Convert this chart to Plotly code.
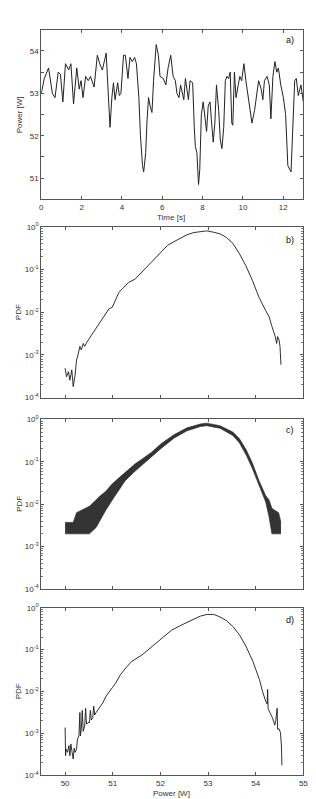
import numpy as np
import plotly.graph_objects as go

# ---------------- data ----------------
# a) power time series
time_s = [0.00, 0.15, 0.36, 0.55, 0.68, 0.84, 0.95, 1.07, 1.20, 1.36, 1.47, 1.60, 1.76, 1.88,
          1.97, 2.07, 2.20, 2.33, 2.44, 2.62, 2.78, 2.90, 3.03, 3.22, 3.30, 3.41, 3.50, 3.58,
          3.66, 3.79, 3.87, 3.95, 4.08, 4.17, 4.30, 4.40, 4.51, 4.63, 4.72, 4.84, 4.92, 5.02,
          5.08, 5.18, 5.24, 5.32, 5.40, 5.49, 5.57, 5.63, 5.70, 5.81, 5.89, 6.05, 6.18, 6.29,
          6.42, 6.54, 6.65, 6.73, 6.83, 6.91, 6.99, 7.07, 7.15, 7.23, 7.30, 7.38, 7.51, 7.59,
          7.64, 7.72, 7.80, 7.86, 7.94, 8.03, 8.11, 8.20, 8.28, 8.37, 8.45, 8.53, 8.61, 8.69,
          8.80, 8.88, 8.96, 9.05, 9.13, 9.21, 9.29, 9.37, 9.45, 9.50, 9.58, 9.66, 9.77, 9.85,
          9.94, 10.05, 10.15, 10.23, 10.34, 10.45, 10.58, 10.70, 10.78, 10.91, 10.99, 11.07,
          11.20, 11.31, 11.39, 11.49, 11.59, 11.68, 11.76, 11.88, 12.01, 12.12, 12.23, 12.33,
          12.39, 12.46, 12.57, 12.65, 12.75, 12.88, 13.00]
power_w = [53.00, 53.35, 53.60, 53.00, 52.90, 53.50, 53.45, 52.80, 53.70, 53.55, 53.70, 52.75,
           53.60, 53.10, 53.30, 52.90, 53.40, 53.30, 53.40, 53.15, 53.90, 53.70, 53.55, 53.95,
           53.20, 52.20, 52.90, 53.25, 52.85, 53.25, 52.95, 53.00, 53.90, 53.90, 53.35, 53.85,
           53.75, 53.85, 53.70, 52.90, 52.00, 51.30, 51.15, 51.60, 52.30, 52.90, 52.70, 52.55,
           53.30, 53.80, 54.15, 53.90, 53.40, 53.35, 53.20, 53.60, 53.90, 53.40, 53.30, 53.00,
           52.90, 53.20, 53.00, 52.85, 53.35, 53.10, 52.85, 53.30, 53.25, 52.20, 51.75, 51.60,
           50.85, 51.20, 52.50, 52.80, 52.40, 52.10, 52.70, 52.80, 52.30, 51.85, 52.30, 53.20,
           52.60, 51.90, 51.70, 52.20, 53.30, 53.40, 53.35, 53.50, 52.30, 52.25, 53.50, 52.90,
           53.20, 53.40, 53.30, 53.70, 53.30, 53.00, 52.70, 52.30, 52.60, 53.10, 53.30, 53.10,
           52.85, 53.30, 53.40, 53.20, 52.40, 53.40, 53.75, 53.50, 53.60, 53.20, 52.90, 52.50,
           51.30, 51.20, 51.15, 52.00, 53.30, 53.35, 52.95, 53.20, 52.80]

# b) PDF (log10 values read off the log axis)
power_b = [50.00, 50.03, 50.07, 50.10, 50.14, 50.17, 50.21, 50.24, 50.27, 50.31, 50.34, 50.38,
           50.41, 50.44, 50.51, 50.58, 50.65, 50.72, 50.79, 50.85, 50.89, 50.92, 50.99, 51.06,
           51.13, 51.20, 51.33, 51.47, 51.61, 51.74, 51.88, 52.02, 52.15, 52.29, 52.43, 52.56,
           52.70, 52.84, 52.97, 53.11, 53.25, 53.38, 53.52, 53.66, 53.79, 53.93, 54.07, 54.21,
           54.28, 54.34, 54.41, 54.44, 54.46, 54.49, 54.51, 54.53]
pdf_b_log10 = [-3.31, -3.51, -3.39, -3.59, -3.35, -3.74, -3.47, -3.12, -3.00, -2.80, -2.88, -2.73,
               -2.80, -2.73, -2.61, -2.49, -2.37, -2.25, -2.14, -2.02, -1.95, -1.92, -1.88, -1.69,
               -1.53, -1.45, -1.30, -1.22, -1.06, -0.90, -0.75, -0.59, -0.43, -0.34, -0.25, -0.18,
               -0.13, -0.10, -0.09, -0.12, -0.16, -0.24, -0.38, -0.63, -0.90, -1.25, -1.65, -1.96,
               -2.10, -2.33, -2.57, -2.73, -2.57, -2.65, -2.80, -3.23]

# c) noisy PDF: lower and upper envelope of the noise band (log10)
power_c = [50.00, 50.17, 50.24, 50.31, 50.51, 50.65, 50.72, 50.85, 50.99, 51.13, 51.26, 51.47,
           51.61, 51.81, 52.02, 52.29, 52.56, 52.84, 52.97, 53.25, 53.52, 53.66, 53.80, 53.93,
           54.07, 54.21, 54.28, 54.34, 54.48, 54.53]
pdf_c_low_log10 = [-2.70, -2.70, -2.70, -2.70, -2.70, -2.55, -2.40, -2.15, -1.90, -1.65, -1.45,
                   -1.22, -1.08, -0.90, -0.68, -0.44, -0.27, -0.17, -0.15, -0.21, -0.38, -0.56,
                   -0.84, -1.16, -1.58, -1.95, -2.30, -2.70, -2.70, -2.70]
pdf_c_high_log10 = [-2.43, -2.43, -2.20, -2.16, -2.05, -1.90, -1.82, -1.70, -1.52, -1.38, -1.25,
                    -1.05, -0.94, -0.78, -0.57, -0.36, -0.20, -0.11, -0.09, -0.15, -0.30, -0.46,
                    -0.72, -1.03, -1.45, -1.80, -1.90, -2.10, -2.20, -2.43]

# d) PDF (log10)
power_d = [50.00, 50.01, 50.02, 50.05, 50.08, 50.10, 50.12, 50.14, 50.17, 50.19, 50.21, 50.24,
           50.26, 50.29, 50.31, 50.32, 50.34, 50.36, 50.38, 50.41, 50.43, 50.45, 50.48, 50.51,
           50.53, 50.55, 50.58, 50.60, 50.62, 50.65, 50.72, 50.79, 50.86, 50.92, 50.99, 51.06,
           51.16, 51.27, 51.40, 51.61, 51.82, 52.02, 52.23, 52.43, 52.64, 52.84, 52.98, 53.12,
           53.25, 53.39, 53.53, 53.66, 53.80, 53.94, 54.08, 54.14, 54.21, 54.24, 54.25, 54.26,
           54.28, 54.35, 54.40, 54.42, 54.45, 54.46, 54.49, 54.52, 54.54, 54.55]
pdf_d_log10 = [-2.86, -3.53, -3.37, -3.45, -3.29, -3.53, -3.25, -3.40, -3.61, -3.35, -3.45, -3.37,
               -3.13, -3.06, -2.50, -3.06, -2.90, -2.45, -2.95, -2.82, -2.40, -2.78, -2.74, -2.74,
               -2.45, -2.68, -2.62, -2.35, -2.56, -2.50, -2.39, -2.27, -2.11, -2.03, -1.91, -1.80,
               -1.60, -1.44, -1.28, -1.13, -0.93, -0.73, -0.54, -0.42, -0.30, -0.20, -0.16, -0.16,
               -0.22, -0.31, -0.46, -0.65, -0.93, -1.28, -1.72, -1.99, -2.23, -2.30, -1.95, -2.40,
               -2.46, -2.62, -2.80, -2.70, -2.40, -2.90, -2.89, -2.98, -3.30, -3.76]

time_ticks = [0, 2, 4, 6, 8, 10, 12]
power_ticks_a = [51, 52, 53, 54]
power_minor_a = [50.5, 51.5, 52.5, 53.5]
power_ticks = [50, 51, 52, 53, 54, 55]
pdf_ticks = [1e-4, 1e-3, 1e-2, 1e-1, 1e0]
pdf_minor = [m * 10.0 ** e for e in (-4, -3, -2, -1) for m in range(2, 10)]
pdf_tick_text = ["10<sup>-4</sup>", "10<sup>-3</sup>", "10<sup>-2</sup>", "10<sup>-1</sup>", "10<sup>0</sup>"]
panel_labels = ["a)", "b)", "c)", "d)"]

# ---------------- figure ----------------
W, H = 316, 799
FONT = "Liberation Sans, Arial, sans-serif"
LINE = "#1a1a1a"


def py(y):
    return 1 - y / H


x_dom = [32 / W, 300 / W]
panels_px = [(16, 188), (216, 389), (411, 583), (602, 772)]
y_doms = [[py(b), py(t)] for t, b in panels_px]

fig = go.Figure()

fig.add_trace(go.Scatter(x=time_s, y=power_w, mode="lines",
                         line=dict(color="#222222", width=1), xaxis="x", yaxis="y"))

fig.add_trace(go.Scatter(x=power_b, y=np.power(10.0, pdf_b_log10), mode="lines",
                         line=dict(color=LINE, width=0.9), xaxis="x2", yaxis="y2"))

fig.add_trace(go.Scatter(x=power_c, y=np.power(10.0, pdf_c_low_log10), mode="lines",
                         line=dict(color="#333333", width=0.7), xaxis="x3", yaxis="y3"))
fig.add_trace(go.Scatter(x=power_c, y=np.power(10.0, pdf_c_high_log10), mode="lines",
                         line=dict(color="#333333", width=0.7), fill="tonexty",
                         fillcolor="rgba(15,15,15,0.85)", xaxis="x3", yaxis="y3"))

fig.add_trace(go.Scatter(x=power_d, y=np.power(10.0, pdf_d_log10), mode="lines",
                         line=dict(color=LINE, width=0.9), xaxis="x4", yaxis="y4"))

tickfont = dict(family=FONT, size=8, color="#333333")
common = dict(showline=True, linecolor="#555555", linewidth=1, mirror="ticks",
              ticks="inside", ticklen=3, tickcolor="#555555", showgrid=False,
              zeroline=False, tickfont=tickfont)

layout = dict(
    width=W, height=H,
    margin=dict(l=0, r=0, t=0, b=0),
    paper_bgcolor="white", plot_bgcolor="white",
    showlegend=False,
    font=dict(family=FONT, size=8, color="#333333"),
)

# a)
layout["xaxis"] = dict(domain=x_dom, anchor="y", range=[0, 13], tickvals=time_ticks, **common)
layout["yaxis"] = dict(domain=y_doms[0], anchor="x", range=[50.5, 54.5], tickvals=power_ticks_a,
                       minor=dict(tickvals=power_minor_a, ticks="inside", ticklen=3,
                                  tickcolor="#555555"),
                       **common)

for i in range(2, 5):
    layout[f"xaxis{i}"] = dict(domain=x_dom, anchor=f"y{i}", range=[49.5, 55],
                               tickvals=power_ticks, showticklabels=(i == 4), **common)
    layout[f"yaxis{i}"] = dict(domain=y_doms[i - 1], anchor=f"x{i}", type="log", range=[-4, 0],
                               tickvals=pdf_ticks, ticktext=pdf_tick_text,
                               minor=dict(tickvals=pdf_minor, ticks="inside", ticklen=2,
                                          tickcolor="#777777", showgrid=False),
                               **common)

fig.update_layout(**layout)

ann = []
label_y = [26, 229, 422, 614]
for lab, yy in zip(panel_labels, label_y):
    ann.append(dict(text=lab, x=292 / W, y=py(yy), xref="paper", yref="paper",
                    xanchor="right", yanchor="middle", showarrow=False,
                    font=dict(family=FONT, size=9, color="#111111")))

ann.append(dict(text="Power [W]", x=10 / W, y=py(102), xref="paper", yref="paper",
                textangle=-90, showarrow=False, xanchor="center", yanchor="middle",
                font=dict(family=FONT, size=8, color="#333333")))
for t, b in panels_px[1:]:
    ann.append(dict(text="PDF", x=9 / W, y=py((t + b) / 2), xref="paper", yref="paper",
                    textangle=-90, showarrow=False, xanchor="center", yanchor="middle",
                    font=dict(family=FONT, size=8, color="#333333")))
ann.append(dict(text="Time [s]", x=165 / W, y=py(206), xref="paper", yref="paper",
                showarrow=False, xanchor="center", yanchor="middle",
                font=dict(family=FONT, size=8, color="#333333")))
ann.append(dict(text="Power [W]", x=165 / W, y=0, xref="paper", yref="paper",
                showarrow=False, xanchor="center", yanchor="bottom", yshift=2,
                font=dict(family=FONT, size=8, color="#333333")))
fig.update_layout(annotations=ann)

fig.write_html("out.html")
